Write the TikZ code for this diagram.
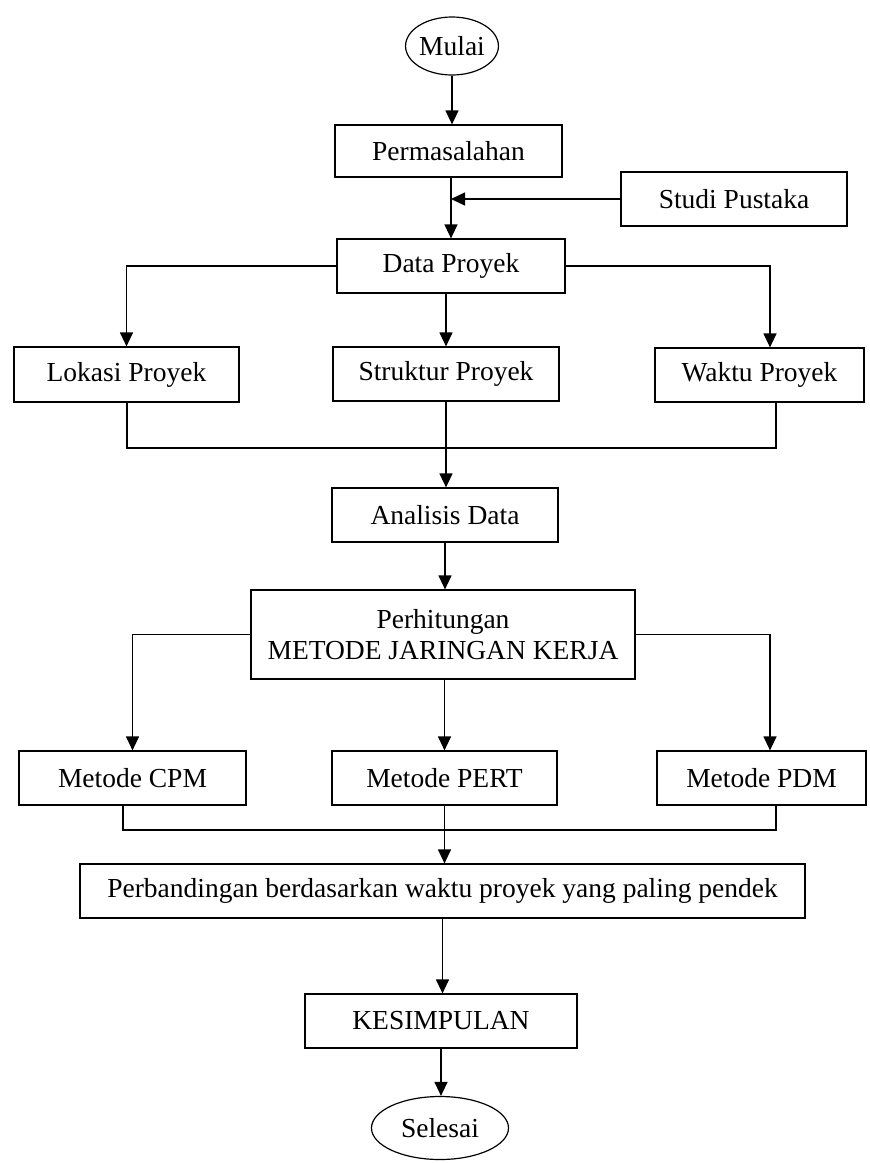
\documentclass[tikz,border=0pt]{standalone}
\usepackage{fontspec}
\setmainfont{Liberation Serif}
\usetikzlibrary{shapes.geometric,arrows.meta,calc}
\begin{document}
\begin{tikzpicture}[x=1pt,y=-1pt,
  every node/.style={font=\fontsize{27.5}{31}\selectfont},
  box/.style={draw,line width=1.2pt,rectangle,inner sep=0pt,align=center},
  term/.style={draw,line width=1.2pt,ellipse,inner sep=0pt},
  conn/.style={line width=1.2pt},
  arr/.style={line width=1.2pt,-{Triangle[width=13pt,length=14pt]}}]
\useasboundingbox (0,0) rectangle (870,1163);
\fill[white] (0,0) rectangle (870,1163);
% nodes
\node[term,minimum width=90pt,minimum height=58pt] (mulai) at (452,46) {Mulai};
\node[box,minimum width=227pt,minimum height=52pt] (perm) at (448.5,151) {Permasalahan};
\node[box,minimum width=226pt,minimum height=54pt] (studi) at (734,199) {Studi Pustaka};
\node[box,minimum width=228pt,minimum height=54pt] (data) at (451,266) {Data Proyek};
\node[box,minimum width=225pt,minimum height=55pt] (lokasi) at (126.5,374.5) {Lokasi Proyek};
\node[box,minimum width=226pt,minimum height=54pt] (struktur) at (446,374) {Struktur Proyek};
\node[box,minimum width=209pt,minimum height=54pt] (waktu) at (759.5,375) {Waktu Proyek};
\node[box,minimum width=226pt,minimum height=54pt] (analisis) at (445,515) {Analisis Data};
\node[box,minimum width=384pt,minimum height=89pt] (perhit) at (443,634.5) {Perhitungan\\METODE JARINGAN KERJA};
\node[box,minimum width=227pt,minimum height=54pt] (cpm) at (132.5,778) {Metode CPM};
\node[box,minimum width=225pt,minimum height=54pt] (pert) at (444.5,778) {Metode PERT};
\node[box,minimum width=209pt,minimum height=54pt] (pdm) at (761.5,778) {Metode PDM};
\node[box,minimum width=725pt,minimum height=54pt] (perb) at (442.5,891) {Perbandingan berdasarkan waktu proyek yang paling pendek};
\node[box,minimum width=272pt,minimum height=54pt] (kesim) at (441,1021) {KESIMPULAN};
\node[term,minimum width=137pt,minimum height=63pt] (selesai) at (440,1128) {Selesai};
% junction coordinates
\coordinate (wtop) at ($(waktu.north)+(10.5,0)$);
\coordinate (jl) at (127,448);
\coordinate (jr) at (776,448);
\coordinate (ptop) at ($(pdm.north)+(8.5,0)$);
\coordinate (jl2) at (123,830);
\coordinate (jr2) at (776,830);
% connectors
\draw[arr] (mulai.south) -- (mulai.south |- perm.north);
\draw[arr] (perm.south -| data.north) -- (data.north);
\draw[arr] (studi.west) -- (studi.west -| data.north);
\draw[arr] (data.west) -| (lokasi.north);
\draw[arr] (data.east) -| (wtop);
\draw[arr] (struktur.north |- data.south) -- (struktur.north);
\draw[conn] (jl |- lokasi.south) -- (jl) -- (jr) -- (jr |- waktu.south);
\draw[arr] (struktur.south) -- (struktur.south |- analisis.north);
\draw[arr] (analisis.south) -- (analisis.south |- perhit.north);
\draw[arr] (perhit.west) -| (cpm.north);
\draw[arr] (perhit.east) -| (ptop);
\draw[arr] (pert.north |- perhit.south) -- (pert.north);
\draw[conn] (jl2 |- cpm.south) -- (jl2) -- (jr2) -- (jr2 |- pdm.south);
\draw[arr] (pert.south) -- (pert.south |- perb.north);
\draw[arr] (perb.south) -- (perb.south |- kesim.north);
\draw[arr] (kesim.south) -- (kesim.south |- selesai.north);
\end{tikzpicture}
\end{document}
